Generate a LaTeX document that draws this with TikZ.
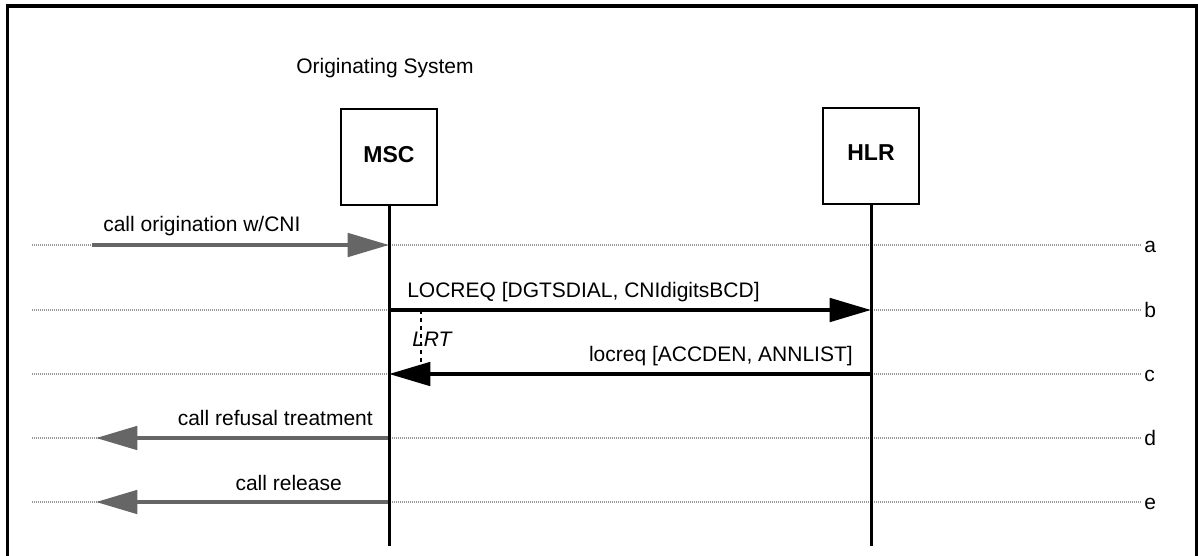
\documentclass[tikz,border=0pt]{standalone}
\usepackage{fontspec}
\setmainfont{Liberation Sans}
\usetikzlibrary{arrows.meta}
\definecolor{msggray}{RGB}{102,102,102}
\definecolor{rowgray}{RGB}{150,150,150}

\begin{document}
\begin{tikzpicture}[x=0.75pt,y=-0.75pt,
  every node/.style={inner sep=0pt, font=\fontsize{15.75}{18}\selectfont},
  entity/.style={draw, line width=1.9pt, minimum width=72pt, minimum height=72pt},
  title/.style={font=\fontsize{17.25}{20}\selectfont\bfseries},
  lifeline/.style={line width=2.25pt},
  rowline/.style={rowgray, line width=0.8pt, dash pattern=on 0.75pt off 0.75pt},
  gmsg/.style={msggray, line width=3pt, -{Triangle[length=31pt,width=17.5pt]}},
  bmsg/.style={black, line width=3pt, -{Triangle[length=31pt,width=17.5pt]}},
  timer/.style={line width=1.1pt, dash pattern=on 3pt off 3pt},
  rowlabel/.style={anchor=base west},
]
\useasboundingbox (0,0) rectangle (1198,556);

% outer frame
\draw[line width=2.5pt] (7.5,556) -- (7.5,6) -- (1196.5,6) -- (1196.5,556);

% system heading and entities
\node[anchor=base west] (origsys) at (296,74) {Originating System};
\node[entity] (msc) at (389,157) {};
\node[entity] (hlr) at (871,156) {};
\node[title, anchor=base] (msctext) at (389,162) {MSC};
\node[title, anchor=base] (hlrtext) at (871,161) {HLR};
\coordinate (mscend) at (389,546);
\coordinate (hlrend) at (871,546);

% step rows a..e
\foreach \r/\yy/\xe in {a/245/92,b/310/92,c/374/92,d/438/96,e/502/96} {
  \coordinate (L\r) at (32,\yy);
  \coordinate (R\r) at (1142,\yy);
  \coordinate (M\r) at (389,\yy);
  \coordinate (H\r) at (871,\yy);
  \coordinate (E\r) at (\xe,\yy);
  \draw[rowline] (L\r) -- (R\r);
  \node[rowlabel] (lab\r) at (1144,\yy+7) {\r};
}

% messages
\draw[gmsg] (Ea) -- (Ma);
\draw[bmsg] (Mb) -- (Hb);
\draw[bmsg] (Hc) -- (Mc);
\draw[gmsg] (Md) -- (Ed);
\draw[gmsg] (Me) -- (Ee);

\node[anchor=base west] (msga) at (103,231) {call origination w/CNI};
\node[anchor=base west] (msgb) at (407,297) {LOCREQ [DGTSDIAL, CNIdigitsBCD]};
\node[anchor=base east] (msgc) at (853,361) {locreq [ACCDEN, ANNLIST]};
\node[anchor=base east] (msgd) at (373,425) {call refusal treatment};
\node[anchor=base east] (msge) at (342,490) {call release};

% LRT timer
\coordinate (lrttop) at (421,310);
\coordinate (lrtbot) at (421,374);
\draw[timer] (lrttop) -- (lrtbot);
\node[anchor=base west, font=\fontsize{15.75}{18}\selectfont\itshape] (lrt) at (412,346) {LRT};

% lifelines
\draw[lifeline] (msc.south) -- (mscend);
\draw[lifeline] (hlr.south) -- (hlrend);
\end{tikzpicture}
\end{document}
